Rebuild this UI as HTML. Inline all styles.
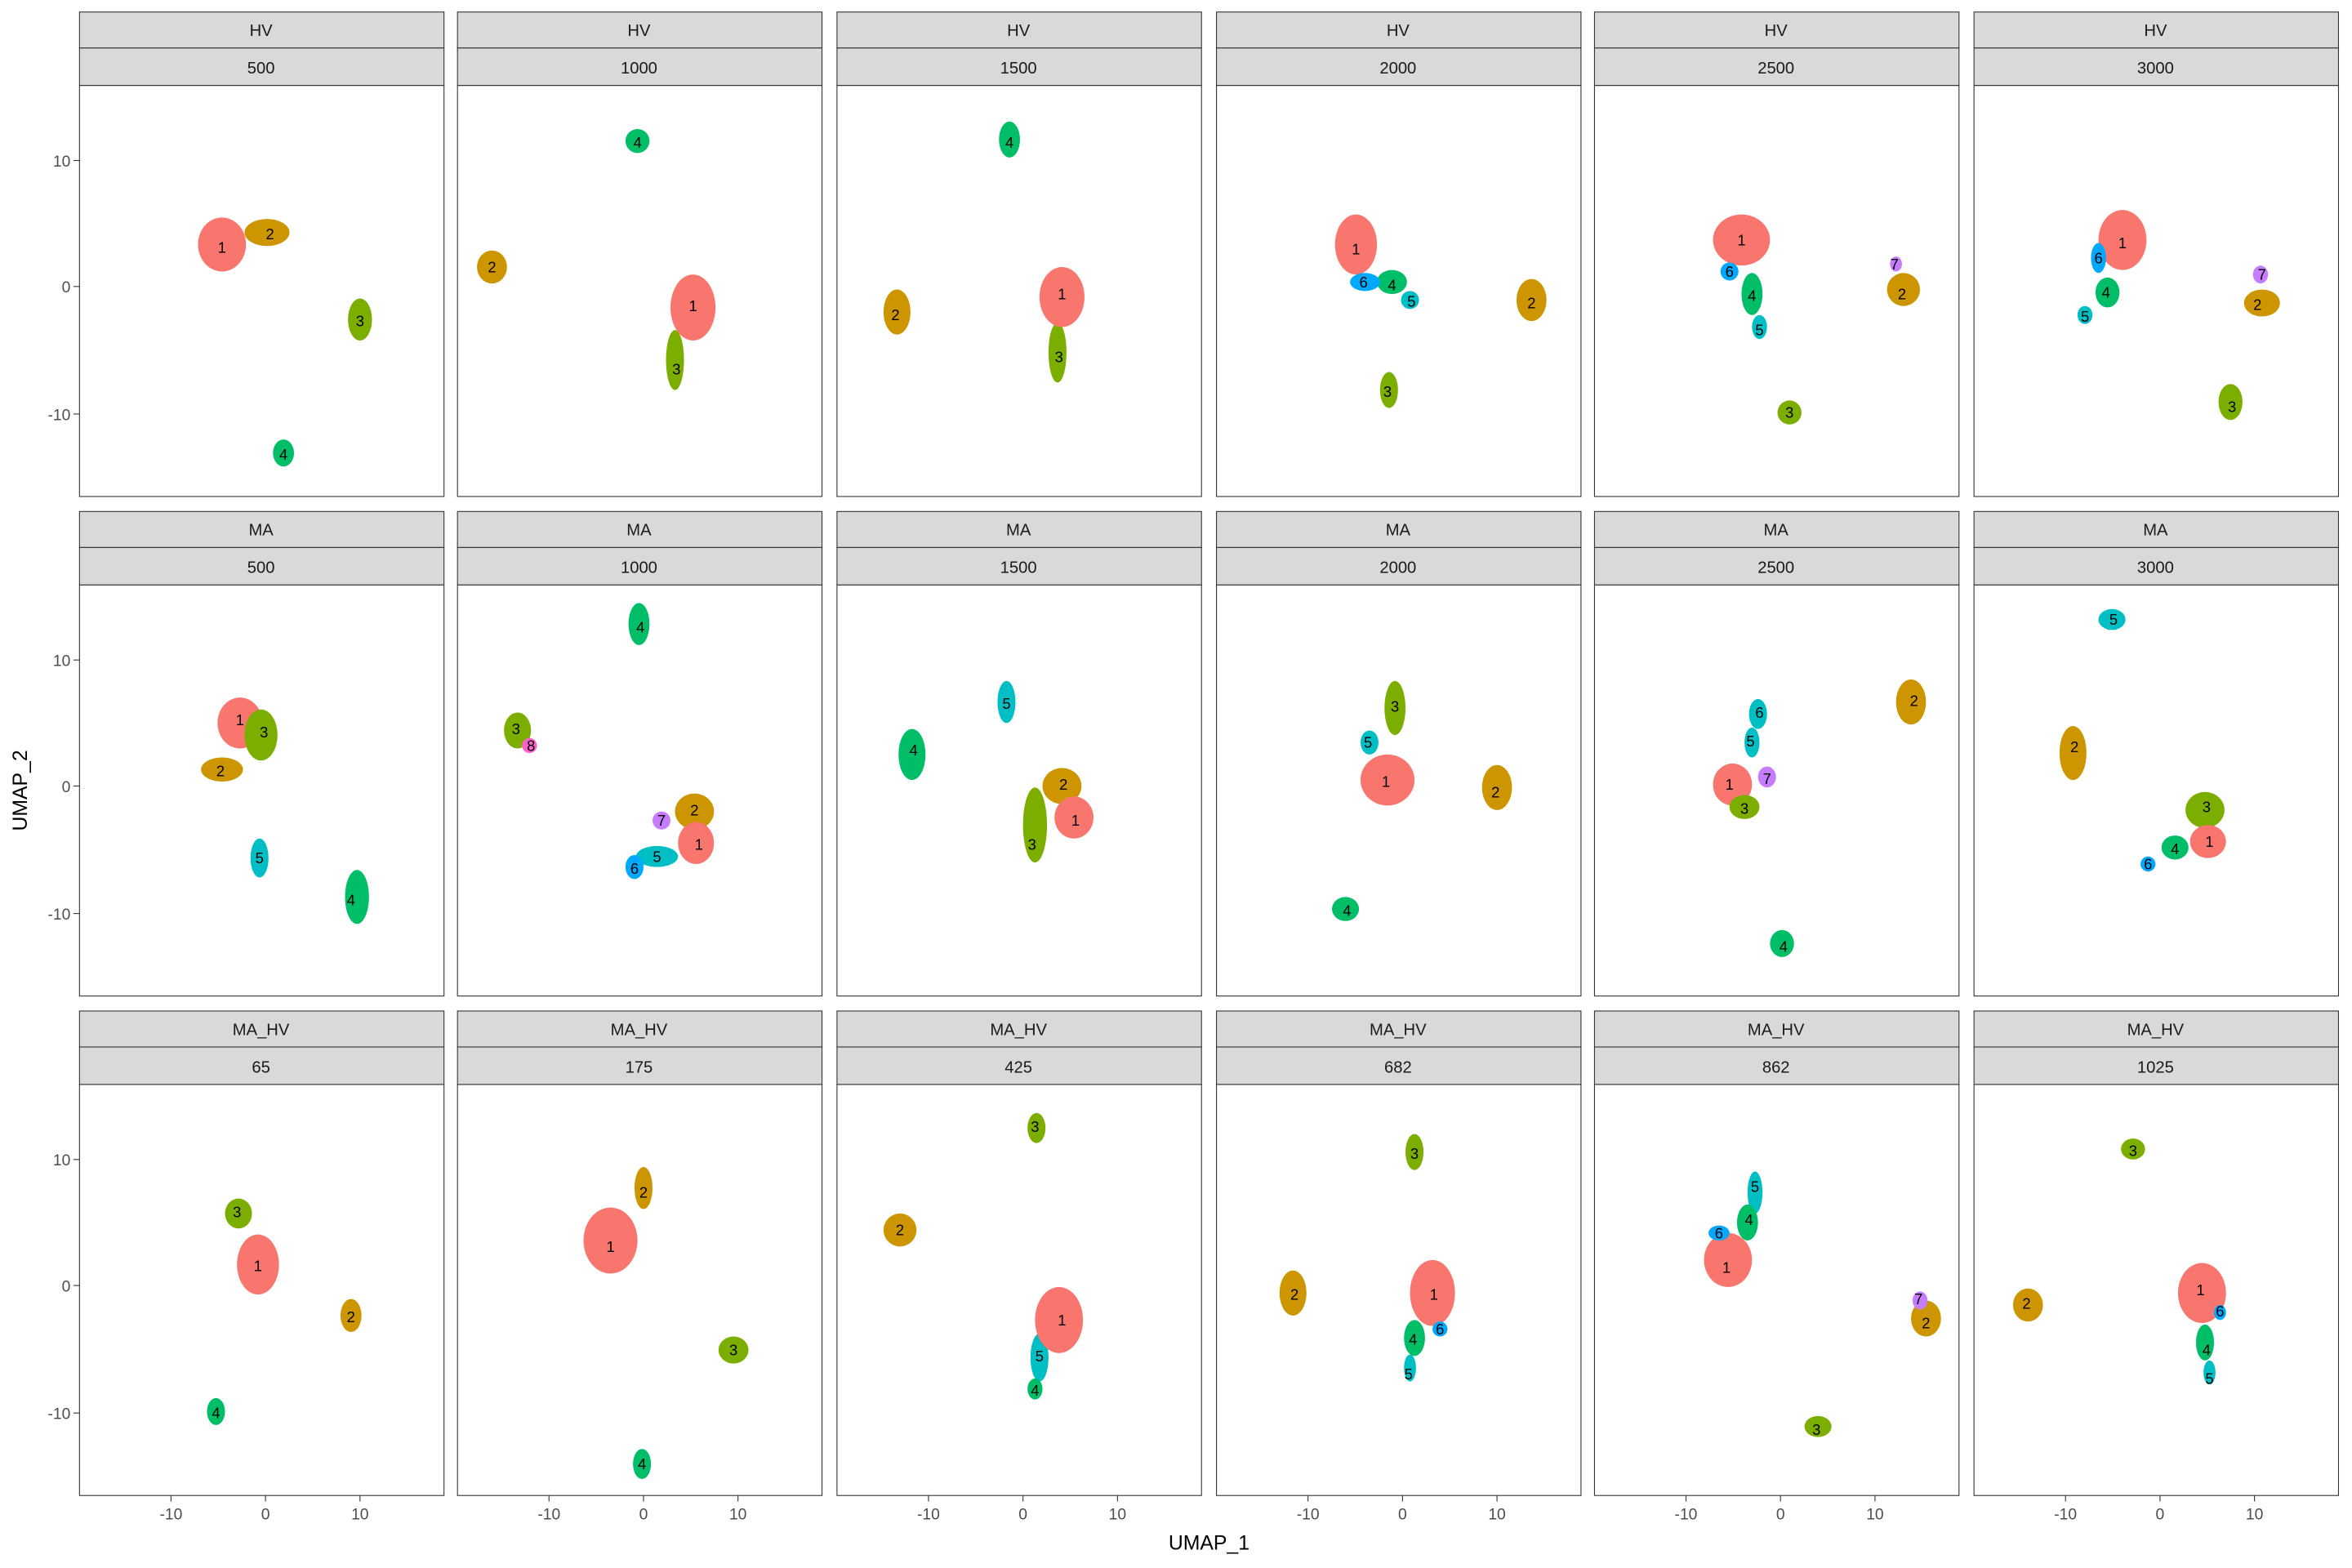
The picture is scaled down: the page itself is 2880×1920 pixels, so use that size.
<!DOCTYPE html>
<html><head><meta charset="utf-8"><style>
html,body{margin:0;padding:0;background:#fff}
svg{display:block}
text{font-family:"Liberation Sans",Arial,sans-serif}
.st{fill:#D9D9D9;stroke:#333;stroke-width:0.6}
.pn{fill:#fff;stroke:#333;stroke-width:0.6}
.sl{font-size:11px;fill:#1a1a1a;text-anchor:middle}
.tk{font-size:10.5px;fill:#4d4d4d}
.cl{font-size:10px;fill:#000;text-anchor:middle;dominant-baseline:central}
.c1{fill:#F8766D}.c2{fill:#CD9600}.c3{fill:#7CAE00}.c4{fill:#00BE67}.c5{fill:#00BFC4}.c6{fill:#00A9FF}.c7{fill:#C77CFF}.c8{fill:#FF61CC}
</style></head><body>
<svg width="2880" height="1920" viewBox="0 0 1568 1045.33" xmlns="http://www.w3.org/2000/svg">
<rect width="1568" height="1046" fill="#fff"/>
<!-- Panels & strips -->
<g id="frames">
<!-- row 1 -->
<rect class="st" x="53" y="8" width="243" height="24"/><rect class="st" x="53" y="32" width="243" height="25"/><rect class="pn" x="53" y="57" width="243" height="274"/>
<rect class="st" x="305" y="8" width="243" height="24"/><rect class="st" x="305" y="32" width="243" height="25"/><rect class="pn" x="305" y="57" width="243" height="274"/>
<rect class="st" x="558" y="8" width="243" height="24"/><rect class="st" x="558" y="32" width="243" height="25"/><rect class="pn" x="558" y="57" width="243" height="274"/>
<rect class="st" x="811" y="8" width="243" height="24"/><rect class="st" x="811" y="32" width="243" height="25"/><rect class="pn" x="811" y="57" width="243" height="274"/>
<rect class="st" x="1063" y="8" width="243" height="24"/><rect class="st" x="1063" y="32" width="243" height="25"/><rect class="pn" x="1063" y="57" width="243" height="274"/>
<rect class="st" x="1316" y="8" width="243" height="24"/><rect class="st" x="1316" y="32" width="243" height="25"/><rect class="pn" x="1316" y="57" width="243" height="274"/>
<!-- row 2 -->
<rect class="st" x="53" y="341" width="243" height="24"/><rect class="st" x="53" y="365" width="243" height="25"/><rect class="pn" x="53" y="390" width="243" height="274"/>
<rect class="st" x="305" y="341" width="243" height="24"/><rect class="st" x="305" y="365" width="243" height="25"/><rect class="pn" x="305" y="390" width="243" height="274"/>
<rect class="st" x="558" y="341" width="243" height="24"/><rect class="st" x="558" y="365" width="243" height="25"/><rect class="pn" x="558" y="390" width="243" height="274"/>
<rect class="st" x="811" y="341" width="243" height="24"/><rect class="st" x="811" y="365" width="243" height="25"/><rect class="pn" x="811" y="390" width="243" height="274"/>
<rect class="st" x="1063" y="341" width="243" height="24"/><rect class="st" x="1063" y="365" width="243" height="25"/><rect class="pn" x="1063" y="390" width="243" height="274"/>
<rect class="st" x="1316" y="341" width="243" height="24"/><rect class="st" x="1316" y="365" width="243" height="25"/><rect class="pn" x="1316" y="390" width="243" height="274"/>
<!-- row 3 -->
<rect class="st" x="53" y="674" width="243" height="24"/><rect class="st" x="53" y="698" width="243" height="25"/><rect class="pn" x="53" y="723" width="243" height="274"/>
<rect class="st" x="305" y="674" width="243" height="24"/><rect class="st" x="305" y="698" width="243" height="25"/><rect class="pn" x="305" y="723" width="243" height="274"/>
<rect class="st" x="558" y="674" width="243" height="24"/><rect class="st" x="558" y="698" width="243" height="25"/><rect class="pn" x="558" y="723" width="243" height="274"/>
<rect class="st" x="811" y="674" width="243" height="24"/><rect class="st" x="811" y="698" width="243" height="25"/><rect class="pn" x="811" y="723" width="243" height="274"/>
<rect class="st" x="1063" y="674" width="243" height="24"/><rect class="st" x="1063" y="698" width="243" height="25"/><rect class="pn" x="1063" y="723" width="243" height="274"/>
<rect class="st" x="1316" y="674" width="243" height="24"/><rect class="st" x="1316" y="698" width="243" height="25"/><rect class="pn" x="1316" y="723" width="243" height="274"/>
</g>
<!-- strip labels -->
<g class="sl">
<text x="174" y="24">HV</text><text x="426" y="24">HV</text><text x="679" y="24">HV</text><text x="932" y="24">HV</text><text x="1184" y="24">HV</text><text x="1437" y="24">HV</text>
<text x="174" y="49">500</text><text x="426" y="49">1000</text><text x="679" y="49">1500</text><text x="932" y="49">2000</text><text x="1184" y="49">2500</text><text x="1437" y="49">3000</text>
<text x="174" y="357">MA</text><text x="426" y="357">MA</text><text x="679" y="357">MA</text><text x="932" y="357">MA</text><text x="1184" y="357">MA</text><text x="1437" y="357">MA</text>
<text x="174" y="382">500</text><text x="426" y="382">1000</text><text x="679" y="382">1500</text><text x="932" y="382">2000</text><text x="1184" y="382">2500</text><text x="1437" y="382">3000</text>
<text x="174" y="690">MA_HV</text><text x="426" y="690">MA_HV</text><text x="679" y="690">MA_HV</text><text x="932" y="690">MA_HV</text><text x="1184" y="690">MA_HV</text><text x="1437" y="690">MA_HV</text>
<text x="174" y="715">65</text><text x="426" y="715">175</text><text x="679" y="715">425</text><text x="932" y="715">682</text><text x="1184" y="715">862</text><text x="1437" y="715">1025</text>
</g>
<!-- y ticks -->
<g stroke="#333" stroke-width="0.6">
<line x1="49" x2="53" y1="107" y2="107"/><line x1="49" x2="53" y1="191" y2="191"/><line x1="49" x2="53" y1="276" y2="276"/>
<line x1="49" x2="53" y1="440" y2="440"/><line x1="49" x2="53" y1="524" y2="524"/><line x1="49" x2="53" y1="609" y2="609"/>
<line x1="49" x2="53" y1="773" y2="773"/><line x1="49" x2="53" y1="857" y2="857"/><line x1="49" x2="53" y1="942" y2="942"/>
</g>
<g class="tk" text-anchor="end">
<text x="47" y="111">10</text><text x="47" y="195">0</text><text x="47" y="280">-10</text>
<text x="47" y="444">10</text><text x="47" y="528">0</text><text x="47" y="613">-10</text>
<text x="47" y="777">10</text><text x="47" y="861">0</text><text x="47" y="946">-10</text>
</g>
<!-- x ticks -->
<g stroke="#333" stroke-width="0.6">
<line x1="114" x2="114" y1="997" y2="1001"/><line x1="177" x2="177" y1="997" y2="1001"/><line x1="240" x2="240" y1="997" y2="1001"/>
<line x1="366" x2="366" y1="997" y2="1001"/><line x1="429" x2="429" y1="997" y2="1001"/><line x1="492" x2="492" y1="997" y2="1001"/>
<line x1="619" x2="619" y1="997" y2="1001"/><line x1="682" x2="682" y1="997" y2="1001"/><line x1="745" x2="745" y1="997" y2="1001"/>
<line x1="872" x2="872" y1="997" y2="1001"/><line x1="935" x2="935" y1="997" y2="1001"/><line x1="998" x2="998" y1="997" y2="1001"/>
<line x1="1124" x2="1124" y1="997" y2="1001"/><line x1="1187" x2="1187" y1="997" y2="1001"/><line x1="1250" x2="1250" y1="997" y2="1001"/>
<line x1="1377" x2="1377" y1="997" y2="1001"/><line x1="1440" x2="1440" y1="997" y2="1001"/><line x1="1503" x2="1503" y1="997" y2="1001"/>
</g>
<g class="tk" text-anchor="middle">
<text x="114" y="1013">-10</text><text x="177" y="1013">0</text><text x="240" y="1013">10</text>
<text x="366" y="1013">-10</text><text x="429" y="1013">0</text><text x="492" y="1013">10</text>
<text x="619" y="1013">-10</text><text x="682" y="1013">0</text><text x="745" y="1013">10</text>
<text x="872" y="1013">-10</text><text x="935" y="1013">0</text><text x="998" y="1013">10</text>
<text x="1124" y="1013">-10</text><text x="1187" y="1013">0</text><text x="1250" y="1013">10</text>
<text x="1377" y="1013">-10</text><text x="1440" y="1013">0</text><text x="1503" y="1013">10</text>
</g>
<text x="806" y="1033" font-size="13.5" text-anchor="middle" fill="#000">UMAP_1</text>
<text x="18" y="527" font-size="13.5" text-anchor="middle" fill="#000" transform="rotate(-90 18 527)">UMAP_2</text>

<!-- clusters -->
<g>
<!-- Row1 P1 -->
<ellipse class="c1" cx="148" cy="163" rx="16" ry="18"/><ellipse class="c2" cx="178" cy="155" rx="15" ry="9"/><ellipse class="c3" cx="240" cy="213" rx="8" ry="14"/><ellipse class="c4" cx="189" cy="302" rx="7" ry="9"/>
<!-- Row1 P2 -->
<ellipse class="c4" cx="425" cy="94" rx="8" ry="8"/><ellipse class="c2" cx="328" cy="178" rx="10" ry="11"/><ellipse class="c3" cx="450" cy="240" rx="6" ry="20"/><ellipse class="c1" cx="462" cy="205" rx="15" ry="22"/>
<!-- Row1 P3 -->
<ellipse class="c4" cx="673" cy="93" rx="7" ry="12"/><ellipse class="c2" cx="598" cy="208" rx="9" ry="15"/><ellipse class="c3" cx="705" cy="235" rx="6" ry="20"/><ellipse class="c1" cx="708" cy="198" rx="15" ry="20"/>
<!-- Row1 P4 -->
<ellipse class="c1" cx="904" cy="163" rx="14" ry="20"/><ellipse class="c4" cx="928" cy="188" rx="10" ry="8"/><ellipse class="c6" cx="910" cy="188" rx="10" ry="6"/><ellipse class="c5" cx="940" cy="200" rx="6" ry="6"/><ellipse class="c2" cx="1021" cy="200" rx="10" ry="14"/><ellipse class="c3" cx="926" cy="260" rx="6" ry="12"/>
<!-- Row1 P5 -->
<ellipse class="c1" cx="1161" cy="160" rx="19" ry="17"/><ellipse class="c4" cx="1168" cy="196" rx="7" ry="14"/><ellipse class="c6" cx="1153" cy="181" rx="6" ry="6"/><ellipse class="c5" cx="1173" cy="218" rx="5" ry="8"/><ellipse class="c2" cx="1269" cy="193" rx="11" ry="11"/><ellipse class="c7" cx="1264" cy="176" rx="4" ry="5"/><ellipse class="c3" cx="1193" cy="275" rx="8" ry="8"/>
<!-- Row1 P6 -->
<ellipse class="c1" cx="1415" cy="160" rx="16" ry="20"/><ellipse class="c4" cx="1405" cy="195" rx="8" ry="10"/><ellipse class="c6" cx="1399" cy="172" rx="5" ry="10"/><ellipse class="c5" cx="1390" cy="210" rx="5" ry="6"/><ellipse class="c2" cx="1508" cy="202" rx="12" ry="9"/><ellipse class="c7" cx="1507" cy="183" rx="5" ry="6"/><ellipse class="c3" cx="1487" cy="268" rx="8" ry="12"/>

<!-- Row2 P1 -->
<ellipse class="c1" cx="160" cy="482" rx="15" ry="17"/><ellipse class="c3" cx="174" cy="490" rx="11" ry="17"/><ellipse class="c2" cx="148" cy="513" rx="14" ry="8"/><ellipse class="c5" cx="173" cy="572" rx="6" ry="13"/><ellipse class="c4" cx="238" cy="598" rx="8" ry="18"/>
<!-- Row2 P2 -->
<ellipse class="c4" cx="426" cy="416" rx="7" ry="14"/><ellipse class="c3" cx="345" cy="487" rx="9" ry="12"/><ellipse class="c8" cx="353" cy="497" rx="5" ry="5"/><ellipse class="c2" cx="463" cy="541" rx="13" ry="12"/><ellipse class="c1" cx="464" cy="562" rx="12" ry="14"/><ellipse class="c5" cx="438" cy="571" rx="14" ry="7"/><ellipse class="c7" cx="441" cy="547" rx="6" ry="6"/><ellipse class="c6" cx="423" cy="578" rx="6" ry="8"/>
<!-- Row2 P3 -->
<ellipse class="c5" cx="671" cy="468" rx="6" ry="14"/><ellipse class="c4" cx="608" cy="503" rx="9" ry="17"/><ellipse class="c3" cx="690" cy="550" rx="8" ry="25"/><ellipse class="c2" cx="708" cy="524" rx="13" ry="12"/><ellipse class="c1" cx="716" cy="545" rx="13" ry="14"/>
<!-- Row2 P4 -->
<ellipse class="c3" cx="930" cy="472" rx="7" ry="18"/><ellipse class="c5" cx="913" cy="495" rx="6" ry="8"/><ellipse class="c1" cx="925" cy="520" rx="18" ry="17"/><ellipse class="c2" cx="998" cy="525" rx="10" ry="15"/><ellipse class="c4" cx="897" cy="606" rx="9" ry="8"/>
<!-- Row2 P5 -->
<ellipse class="c5" cx="1172" cy="476" rx="6" ry="10"/><ellipse class="c5" cx="1168" cy="495" rx="5" ry="10"/><ellipse class="c1" cx="1155" cy="523" rx="13" ry="14"/><ellipse class="c3" cx="1163" cy="538" rx="10" ry="8"/><ellipse class="c7" cx="1178" cy="518" rx="6" ry="7"/><ellipse class="c2" cx="1274" cy="468" rx="10" ry="15"/><ellipse class="c4" cx="1188" cy="629" rx="8" ry="9"/>
<!-- Row2 P6 -->
<ellipse class="c5" cx="1408" cy="413" rx="9" ry="7"/><ellipse class="c2" cx="1382" cy="502" rx="9" ry="18"/><ellipse class="c3" cx="1470" cy="540" rx="13" ry="12"/><ellipse class="c1" cx="1472" cy="561" rx="12" ry="11"/><ellipse class="c4" cx="1450" cy="565" rx="9" ry="8"/><ellipse class="c6" cx="1432" cy="576" rx="5" ry="5"/>

<!-- Row3 P1 -->
<ellipse class="c3" cx="159" cy="809" rx="9" ry="10"/><ellipse class="c1" cx="172" cy="843" rx="14" ry="20"/><ellipse class="c2" cx="234" cy="877" rx="7" ry="11"/><ellipse class="c4" cx="144" cy="941" rx="6" ry="9"/>
<!-- Row3 P2 -->
<ellipse class="c2" cx="429" cy="792" rx="6" ry="14"/><ellipse class="c1" cx="407" cy="827" rx="18" ry="22"/><ellipse class="c3" cx="489" cy="900" rx="10" ry="9"/><ellipse class="c4" cx="428" cy="976" rx="6" ry="10"/>
<!-- Row3 P3 -->
<ellipse class="c3" cx="691" cy="752" rx="6" ry="10"/><ellipse class="c2" cx="600" cy="820" rx="11" ry="11"/><ellipse class="c5" cx="693" cy="905" rx="6" ry="16"/><ellipse class="c4" cx="690" cy="926" rx="5" ry="7"/><ellipse class="c1" cx="706" cy="880" rx="16" ry="22"/>
<!-- Row3 P4 -->
<ellipse class="c3" cx="943" cy="768" rx="6" ry="12"/><ellipse class="c2" cx="862" cy="862" rx="9" ry="15"/><ellipse class="c1" cx="955" cy="862" rx="15" ry="22"/><ellipse class="c4" cx="943" cy="892" rx="7" ry="12"/><ellipse class="c6" cx="960" cy="886" rx="5" ry="5"/><ellipse class="c5" cx="940" cy="912" rx="4" ry="9"/>
<!-- Row3 P5 -->
<ellipse class="c5" cx="1170" cy="795" rx="5" ry="14"/><ellipse class="c4" cx="1165" cy="815" rx="7" ry="12"/><ellipse class="c1" cx="1152" cy="840" rx="16" ry="18"/><ellipse class="c6" cx="1146" cy="822" rx="7" ry="5"/><ellipse class="c2" cx="1284" cy="879" rx="10" ry="12"/><ellipse class="c7" cx="1280" cy="867" rx="5" ry="6"/><ellipse class="c3" cx="1212" cy="951" rx="9" ry="7"/>
<!-- Row3 P6 -->
<ellipse class="c3" cx="1422" cy="766" rx="8" ry="7"/><ellipse class="c2" cx="1352" cy="870" rx="10" ry="11"/><ellipse class="c1" cx="1468" cy="862" rx="16" ry="20"/><ellipse class="c4" cx="1470" cy="895" rx="6" ry="12"/><ellipse class="c6" cx="1480" cy="875" rx="4" ry="5"/><ellipse class="c5" cx="1473" cy="915" rx="4" ry="8"/>
</g>

<!-- cluster labels -->
<g class="cl">
<text x="148" y="165">1</text><text x="180" y="156">2</text><text x="240" y="214">3</text><text x="189" y="303">4</text>
<text x="425" y="95">4</text><text x="328" y="178">2</text><text x="462" y="204">1</text><text x="451" y="246">3</text>
<text x="673" y="95">4</text><text x="597" y="210">2</text><text x="708" y="196">1</text><text x="706" y="238">3</text>
<text x="904" y="166">1</text><text x="909" y="188">6</text><text x="928" y="190">4</text><text x="941" y="201">5</text><text x="1021" y="202">2</text><text x="925" y="261">3</text>
<text x="1161" y="160">1</text><text x="1153" y="181">6</text><text x="1168" y="197">4</text><text x="1173" y="220">5</text><text x="1263" y="176">7</text><text x="1268" y="196">2</text><text x="1193" y="275">3</text>
<text x="1415" y="162">1</text><text x="1399" y="172">6</text><text x="1404" y="195">4</text><text x="1390" y="211">5</text><text x="1508" y="183">7</text><text x="1505" y="203">2</text><text x="1488" y="271">3</text>

<text x="160" y="480">1</text><text x="176" y="488">3</text><text x="147" y="514">2</text><text x="173" y="572">5</text><text x="234" y="600">4</text>
<text x="427" y="418">4</text><text x="344" y="486">3</text><text x="354" y="497">8</text><text x="463" y="540">2</text><text x="441" y="547">7</text><text x="466" y="563">1</text><text x="438" y="571">5</text><text x="423" y="579">6</text>
<text x="671" y="469">5</text><text x="609" y="500">4</text><text x="709" y="523">2</text><text x="717" y="547">1</text><text x="688" y="563">3</text>
<text x="930" y="471">3</text><text x="912" y="495">5</text><text x="924" y="521">1</text><text x="997" y="528">2</text><text x="898" y="607">4</text>
<text x="1173" y="475">6</text><text x="1167" y="494">5</text><text x="1178" y="519">7</text><text x="1153" y="523">1</text><text x="1163" y="539">3</text><text x="1276" y="467">2</text><text x="1189" y="631">4</text>
<text x="1409" y="413">5</text><text x="1383" y="498">2</text><text x="1471" y="538">3</text><text x="1473" y="561">1</text><text x="1450" y="566">4</text><text x="1432" y="576">6</text>

<text x="158" y="808">3</text><text x="172" y="844">1</text><text x="234" y="878">2</text><text x="144" y="942">4</text>
<text x="429" y="795">2</text><text x="407" y="831">1</text><text x="489" y="900">3</text><text x="428" y="976">4</text>
<text x="690" y="751">3</text><text x="600" y="820">2</text><text x="708" y="880">1</text><text x="693" y="904">5</text><text x="690" y="927">4</text>
<text x="943" y="769">3</text><text x="863" y="863">2</text><text x="956" y="863">1</text><text x="960" y="886">6</text><text x="942" y="893">4</text><text x="939" y="916">5</text>
<text x="1170" y="791">5</text><text x="1166" y="813">4</text><text x="1146" y="822">6</text><text x="1151" y="845">1</text><text x="1279" y="866">7</text><text x="1284" y="882">2</text><text x="1211" y="953">3</text>
<text x="1422" y="767">3</text><text x="1351" y="869">2</text><text x="1467" y="860">1</text><text x="1480" y="874">6</text><text x="1471" y="900">4</text><text x="1473" y="919">5</text>
</g>
</svg>
</body></html>
